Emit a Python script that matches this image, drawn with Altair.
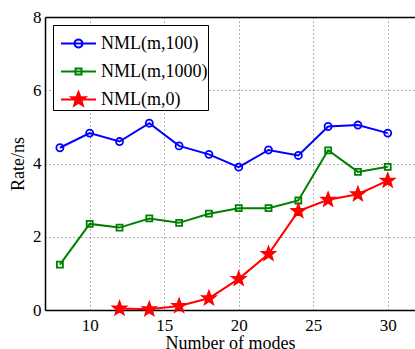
import math
import altair as alt
import pandas as pd

# ---- data ----
series_names = ["NML(m,100)", "NML(m,1000)", "NML(m,0)"]
series_colors = ["#0000ff", "#008000", "#ff0000"]

x_100 = [8, 10, 12, 14, 16, 18, 20, 22, 24, 26, 28, 30]
y_100 = [4.43, 4.83, 4.60, 5.10, 4.48, 4.25, 3.90, 4.37, 4.22, 5.01, 5.05, 4.83]

x_1000 = [8, 10, 12, 14, 16, 18, 20, 22, 24, 26, 28, 30]
y_1000 = [1.24, 2.35, 2.25, 2.50, 2.38, 2.63, 2.78, 2.78, 2.99, 4.36, 3.77, 3.91]

x_0 = [12, 14, 16, 18, 20, 22, 24, 26, 28, 30]
y_0 = [0.04, 0.02, 0.11, 0.32, 0.85, 1.53, 2.70, 3.01, 3.16, 3.53]

x_ticks = [10, 15, 20, 25, 30]
y_ticks = [0, 2, 4, 6, 8]

rows = []
for name, xs, ys in zip(series_names, [x_100, x_1000, x_0], [y_100, y_1000, y_0]):
    for xv, yv in zip(xs, ys):
        rows.append({"x": xv, "y": yv, "series": name})
df = pd.DataFrame(rows)

# ---- marker shapes (unit symbol paths) ----
def star_path(r_out, r_in):
    pts = []
    for i in range(10):
        r = r_out if i % 2 == 0 else r_in
        a = -math.pi / 2 + i * math.pi / 5
        pts.append(f"{r*math.cos(a):.4f},{r*math.sin(a):.4f}")
    return "M" + "L".join(pts) + "Z"

def ring_path(r, n=20):
    pts = [f"{r*math.cos(2*math.pi*i/n):.4f},{r*math.sin(2*math.pi*i/n):.4f}" for i in range(n)]
    return "M" + "L".join(pts) + "Z"

STAR = star_path(1.0, 0.42)
line_seg = "M-1,0L1,0"
leg_circle = line_seg + ring_path(0.23)
s = 0.17
leg_square = line_seg + f"M-{s},-{s}L{s},-{s}L{s},{s}L-{s},{s}Z"
# nested stars so the stroke fills the legend star
leg_star = line_seg + "".join(star_path(r, r * 0.43) for r in [0.42, 0.33, 0.24, 0.15, 0.07])

FONT = "Liberation Serif"

x_scale = alt.Scale(domain=[7, 31.83], nice=False, zero=False)
y_scale = alt.Scale(domain=[0, 8], nice=False, zero=False)

top_test = "datum.value == 8"

base = alt.Chart(df).encode(
    x=alt.X("x:Q", scale=x_scale,
            axis=alt.Axis(values=x_ticks, title="Number of modes", grid=True,
                          ticks=False, labelPadding=7, titlePadding=1,
                          labelFontSize=17, titleFontSize=18)),
    y=alt.Y("y:Q", scale=y_scale,
            axis=alt.Axis(values=y_ticks, title="Rate/ns", grid=True,
                          ticks=False, labelPadding=4, titleX=-27,
                          titleBaseline="middle",
                          labelFontSize=17, titleFontSize=18,
                          gridDash={"condition": {"test": top_test, "value": []}, "value": [1, 3]},
                          gridColor={"condition": {"test": top_test, "value": "black"}, "value": "#666666"},
                          gridWidth={"condition": {"test": top_test, "value": 1.5}, "value": 1})),
)

marker_specs = [
    (series_names[0], series_colors[0], "circle", 50, "transparent"),
    (series_names[1], series_colors[1], "square", 36, "transparent"),
    (series_names[2], series_colors[2], STAR, 190, series_colors[2]),
]
series_layers = []
for name, col, shape, size, fill in marker_specs:
    sub = base.transform_filter(alt.datum.series == name)
    series_layers.append(sub.mark_line(strokeWidth=2, color=col))
    series_layers.append(
        sub.mark_point(shape=shape, size=size, fill=fill, stroke=col,
                       strokeWidth=1.8, opacity=1, filled=False)
    )

def make_legend():
    return alt.Legend(title=None, orient="none", legendX=8, legendY=8)

# invisible carrier layer: only its legend is drawn
legend_layer = (
    base.mark_point(strokeWidth=2, filled=False, opacity=0)
    .encode(
        color=alt.Color("series:N",
                        scale=alt.Scale(domain=series_names, range=series_colors),
                        legend=make_legend()),
        shape=alt.Shape("series:N",
                        scale=alt.Scale(domain=series_names,
                                        range=[leg_circle, leg_square, leg_star]),
                        legend=make_legend()),
    )
)

chart = (
    alt.layer(*series_layers, legend_layer)
    .properties(
        width=370,
        height=293,
        autosize=alt.AutoSizeParams(type="none"),
        padding={"left": 45, "top": 17, "right": 0, "bottom": 39},
        background="white",
    )
    .configure_view(strokeWidth=0)
    .configure_axis(
        labelFont=FONT, titleFont=FONT, labelColor="black", titleColor="black",
        titleFontWeight="normal", domainColor="black", domainWidth=1.5,
        gridColor="#666666", gridDash=[1, 3], gridWidth=1,
    )
    .configure_legend(
        padding=0,
        strokeColor="black", fillColor="white",
        symbolSize=1225, symbolStrokeWidth=2, symbolOpacity=1, symbolOffset=7,
        labelFont=FONT, labelFontSize=18, labelColor="black", labelOffset=4,
        rowPadding=-5,
    )
)

chart.save("out.html", embed_options={"renderer": "svg", "actions": False})
